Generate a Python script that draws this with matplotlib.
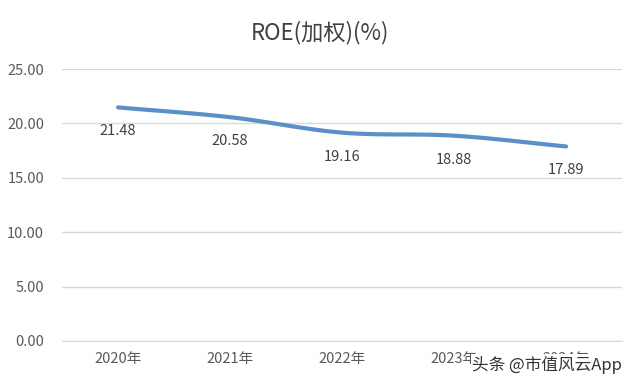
import matplotlib
matplotlib.use("Agg")
import matplotlib.pyplot as plt
import numpy as np

plt.rcParams['font.family'] = ['Noto Sans CJK SC', 'DejaVu Sans']

categories = ["2020年", "2021年", "2022年", "2023年", "2024年"]
values = [21.48, 20.58, 19.16, 18.88, 17.89]
yticks = [0, 5, 10, 15, 20, 25]
title = "ROE(加权)(%)"
watermark = "头条 @市值风云App"

def catmull_rom(xs, ys, n=30):
    xs = np.asarray(xs, float); ys = np.asarray(ys, float)
    px = np.concatenate([[2*xs[0]-xs[1]], xs, [2*xs[-1]-xs[-2]]])
    py = np.concatenate([[2*ys[0]-ys[1]], ys, [2*ys[-1]-ys[-2]]])
    ox, oy = [], []
    for i in range(1, len(px)-2):
        t = np.linspace(0, 1, n, endpoint=(i == len(px)-3))
        for P, out in ((px, ox), (py, oy)):
            p0, p1, p2, p3 = P[i-1], P[i], P[i+1], P[i+2]
            out.extend(0.5*((2*p1) + (-p0+p2)*t + (2*p0-5*p1+4*p2-p3)*t**2 + (-p0+3*p1-3*p2+p3)*t**3))
    return np.array(ox), np.array(oy)

fig = plt.figure(figsize=(6.4, 3.84), dpi=100)
ax = fig.add_axes([0.097, 0.112, 0.875, 0.708])
x = np.arange(len(categories))
sx, sy = catmull_rom(x, values)
ax.plot(sx, sy, color="#5b8fc7", lw=3, solid_capstyle='round', zorder=3)

for xi, v in zip(x, values):
    ax.annotate(f"{v:.2f}", (xi, v), xytext=(0, -24), textcoords="offset pixels",
                ha="center", va="center", fontsize=10.5, color="#404040")

ax.set_xlim(-0.5, len(categories)-0.5)
ax.set_ylim(0, 25)
ax.set_yticks(yticks)
ax.set_yticklabels([f"{t:.2f}" for t in yticks], fontsize=10.5, color="#595959")
ax.set_xticks(x)
ax.set_xticklabels(categories, fontsize=10.5, color="#595959")
ax.tick_params(length=0, pad=13, axis='y')
ax.tick_params(length=0, pad=8, axis='x')
ax.yaxis.grid(True, color="#d9d9d9", lw=1)
ax.set_axisbelow(True)
for s in ax.spines.values():
    s.set_visible(False)
ax.spines['bottom'].set_visible(True)
ax.spines['bottom'].set_color("#d9d9d9")

fig.text(0.5, 0.915, title, ha="center", va="center", fontsize=16, color="#404040")
fig.text(0.972, 0.05, watermark, ha="right", va="center", fontsize=12, color="#333333",
         bbox=dict(facecolor="white", edgecolor="none", pad=1))

fig.savefig("out.png", dpi=100)
